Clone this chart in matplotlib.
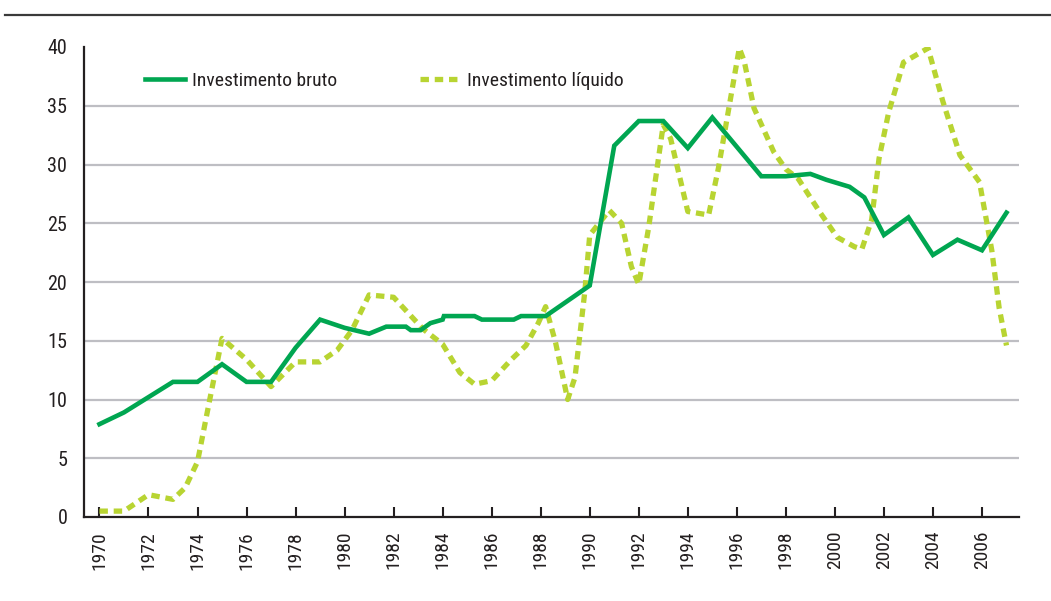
import matplotlib
matplotlib.use("Agg")
import matplotlib.pyplot as plt
from matplotlib.lines import Line2D
from matplotlib import font_manager

# ---- data ----
gross_years = [1970, 1971, 1972, 1973, 1974, 1975, 1976, 1977, 1978, 1979, 1980, 1981,
               1981.7, 1982.5, 1982.7, 1983.1, 1983.5, 1984.0, 1984.05, 1985.3, 1985.6,
               1986.9, 1987.2, 1988.2, 1990, 1991, 1992, 1993, 1994, 1995, 1997, 1998,
               1999, 1999.65, 2000.6, 2001.2, 2002, 2003, 2004, 2005, 2006, 2007]
gross_values = [7.9, 8.9, 10.2, 11.5, 11.5, 13.0, 11.5, 11.5, 14.4, 16.8, 16.1, 15.6,
                16.2, 16.2, 15.9, 15.9, 16.5, 16.8, 17.1, 17.1, 16.8,
                16.8, 17.1, 17.1, 19.7, 31.6, 33.7, 33.7, 31.4, 34.0, 29.0, 29.0,
                29.2, 28.7, 28.1, 27.2, 24.0, 25.5, 22.3, 23.6, 22.7, 25.9]

net_years = [1970, 1971, 1972, 1973, 1973.5, 1974, 1974.5, 1975, 1976, 1977, 1978, 1979,
             1979.7, 1980.3, 1981, 1982, 1982.4, 1983.2, 1984, 1984.7, 1985.3, 1986,
             1986.8, 1987.4, 1987.9, 1988.2, 1988.6, 1989.1, 1989.4, 1989.8, 1990,
             1990.8, 1991.3, 1991.7, 1992, 1992.4, 1993, 1993.3, 1994, 1994.85, 1995.25,
             1995.65, 1996.1, 1996.3, 1996.7, 1997.5, 1998, 1998.5, 1999.4, 2000.1,
             2000.8, 2001.1, 2001.5, 2001.8, 2002.2, 2002.8, 2003.8, 2004.4, 2005.1,
             2005.9, 2006.4, 2006.7, 2007]
net_values = [0.5, 0.5, 1.9, 1.5, 2.5, 4.7, 10.0, 15.2, 13.4, 11.1, 13.2, 13.2,
              14.2, 15.9, 18.9, 18.7, 17.8, 16.0, 14.7, 12.3, 11.3, 11.6,
              13.4, 14.6, 16.5, 17.9, 14.9, 10.0, 11.9, 19.2, 24.0,
              26.1, 25.0, 21.3, 19.8, 24.6, 33.4, 32.2, 26.0, 25.7, 29.7,
              34.5, 39.9, 38.8, 34.8, 31.1, 29.6, 28.8, 25.9, 23.8,
              23.0, 22.8, 25.3, 30.5, 34.5, 38.7, 39.9, 35.4, 30.8,
              28.5, 22.7, 17.8, 14.6]

xtick_years = list(range(1970, 2007, 2))
ytick_values = list(range(0, 41, 5))
series_labels = ["Investimento bruto", "Investimento líquido"]

# ---- font: prefer a condensed sans if one is installed ----
entries = font_manager.fontManager.ttflist
names = {f.name for f in entries}
preferred = ["Liberation Sans Narrow", "Roboto Condensed", "Open Sans Condensed",
             "Noto Sans Condensed", "DejaVu Sans Condensed"]
chosen = None
stretch = "normal"
for p in preferred:
    if p in names:
        chosen = p
        break
if chosen is None:
    cond = [f for f in entries
            if str(f.stretch) in ("condensed", "semi-condensed", "extra-condensed",
                                  "ultra-condensed")
            and f.style == "normal" and f.weight in (400, "normal", "regular")]
    order_pref = ["Roboto", "Liberation Sans", "Open Sans", "Noto Sans", "DejaVu Sans",
                  "Lato", "Inter"]
    cond.sort(key=lambda f: order_pref.index(f.name) if f.name in order_pref else 99)
    if cond:
        chosen = cond[0].name
        stretch = cond[0].stretch
if chosen is None:
    chosen = "Liberation Sans"
plt.rcParams["font.family"] = [chosen, "DejaVu Sans"]
plt.rcParams["font.stretch"] = stretch
narrow = chosen != "Liberation Sans"

W, H = 1051, 601
fig = plt.figure(figsize=(W / 100, H / 100), dpi=100)
ax = fig.add_axes([84 / W, 1 - 517 / H, (1019 - 84) / W, (517 - 47) / H])

GREEN = "#00A651"
LIGHT = "#B8D432"
GRID = "#BEBEC3"
INK = "#231F20"

for v in ytick_values[1:-1]:
    ax.axhline(v, color=GRID, lw=1.6, zorder=1)

ax.plot(net_years, net_values, color=LIGHT, lw=3.8, dashes=(1.6, 1.1),
        solid_capstyle="butt", dash_capstyle="butt", label=series_labels[1], zorder=3)
ax.plot(gross_years, gross_values, color=GREEN, lw=3.3, solid_joinstyle="miter",
        label=series_labels[0], zorder=4)

ax.set_xlim(1969.37, 2007.51)
ax.set_ylim(0, 40)

for s in ["top", "right"]:
    ax.spines[s].set_visible(False)
for s in ["left", "bottom"]:
    ax.spines[s].set_color(INK)
    ax.spines[s].set_linewidth(1.6)

fs_tick = 14 if narrow else 13
fs_y = 14.5 if narrow else 14
fs_leg = 14 if narrow else 13

ax.set_xticks(xtick_years)
ax.set_xticklabels([str(y) for y in xtick_years], rotation=90, fontsize=fs_tick, color=INK)
ax.tick_params(axis="x", direction="in", length=7, width=1.5, color=INK, pad=10)
ax.set_yticks(ytick_values)
ax.set_yticklabels([str(v) for v in ytick_values], fontsize=fs_y, color=INK)
ax.tick_params(axis="y", length=0, pad=12)

handles, labels = ax.get_legend_handles_labels()
order = [1, 0]
px = fs_leg * 100 / 72
leg = ax.legend([handles[i] for i in order], [labels[i] for i in order],
                loc="center left", bbox_to_anchor=(145 / W, 1 - 81 / H),
                bbox_transform=fig.transFigure, ncol=2, frameon=False,
                fontsize=fs_leg, handlelength=40 / px,
                handletextpad=7 / px,
                columnspacing=83 / px, borderpad=0, borderaxespad=0)
for t in leg.get_texts():
    t.set_color(INK)

fig.add_artist(Line2D([5 / W, 1.0], [1 - 15 / H, 1 - 15 / H], color="#3A3A3A",
                      lw=1.6, transform=fig.transFigure))

fig.savefig("out.png", dpi=100)
